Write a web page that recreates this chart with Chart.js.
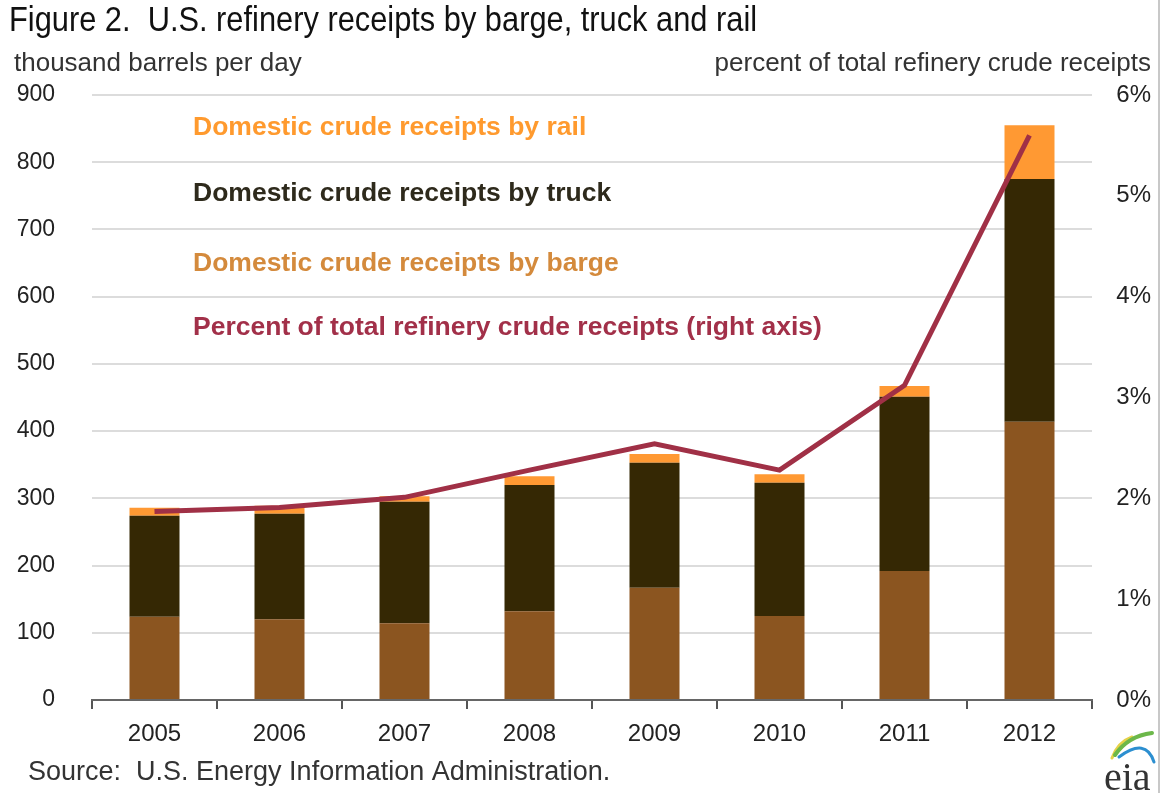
<!DOCTYPE html>
<html>
<head>
<meta charset="utf-8">
<script src="https://cdn.jsdelivr.net/npm/chart.js@4.4.0/dist/chart.umd.min.js"></script>
<style>
  html, body { margin: 0; padding: 0; background: #fff; }
  #wrap { position: relative; width: 1161px; height: 793px; }
</style>
</head>
<body>
<div id="wrap"><canvas id="refinery-chart" width="1161" height="793"></canvas></div>
<script>
/* Data */
const years = ['2005','2006','2007','2008','2009','2010','2011','2012'];
const barge = [124, 120, 114, 132, 167, 125, 192, 414];
const truck = [150, 157, 181, 188, 186, 198, 259, 361];
const rail = [12, 12, 8, 13, 13, 13, 16, 80];
const percentOfTotal = [1.87, 1.91, 2.01, 2.28, 2.54, 2.28, 3.12, 5.6];
const leftTicks = [0, 100, 200, 300, 400, 500, 600, 700, 800, 900];
const rightTicks = [0, 1, 2, 3, 4, 5, 6];

const plain = "'Liberation Sans', Arial, sans-serif";

/* legend text and figure labels drawn straight on the canvas */
const textPlugin = {
    id: 'figureText',
    afterDraw(chart) {
        const c = chart.ctx;
        const area = chart.chartArea;
        c.save();
        c.textBaseline = 'middle';

        // title (condensed, like Arial Narrow)
        c.save();
        c.fillStyle = '#111';
        c.font = '35px ' + plain;
        c.textAlign = 'left';
        c.translate(9, 21);
        c.scale(0.88, 1);
        c.fillText('Figure 2.  U.S. refinery receipts by barge, truck and rail', 0, 0);
        c.restore();

        // axis titles
        c.fillStyle = '#333';
        c.font = '26px ' + plain;
        c.fillText('thousand barrels per day', 14, 64);
        c.textAlign = 'right';
        c.fillText('percent of total refinery crude receipts', 1151, 64);

        // source
        c.textAlign = 'left';
        c.font = '27px ' + plain;
        c.fillText('Source:  U.S. Energy Information Administration.', 28, 773);

        // legend (text only)
        c.font = 'bold 26.5px ' + plain;
        const lx = area.left + 101;
        const legend = [
            ['Domestic crude receipts by rail', '#ff9a2e', 128],
            ['Domestic crude receipts by truck', '#2e2a1c', 194],
            ['Domestic crude receipts by barge', '#d48a3c', 264],
            ['Percent of total refinery crude receipts (right axis)', '#a23049', 328]
        ];
        legend.forEach(function(item) {
            c.fillStyle = item[1];
            c.fillText(item[0], lx, item[2]);
        });

        // eia logo
        c.lineCap = 'round';
        c.lineWidth = 3;
        c.strokeStyle = '#e6d24a';
        c.beginPath(); c.moveTo(1112, 758); c.quadraticCurveTo(1118, 742, 1132, 737); c.stroke();
        c.strokeStyle = '#6cb84a';
        c.lineWidth = 4;
        c.beginPath(); c.moveTo(1115, 755); c.quadraticCurveTo(1128, 736, 1152, 733); c.stroke();
        c.strokeStyle = '#2c8fd0';
        c.lineWidth = 3;
        c.beginPath(); c.moveTo(1119, 757); c.quadraticCurveTo(1146, 737, 1154, 762); c.stroke();
        c.fillStyle = '#333';
        c.font = '40px "Liberation Serif", "DejaVu Serif", serif';
        c.textAlign = 'left';
        c.textBaseline = 'alphabetic';
        c.fillText('eia', 1104, 790);

        // right border of the figure
        c.strokeStyle = '#c8c8c8';
        c.lineWidth = 2;
        c.beginPath(); c.moveTo(1159, 0); c.lineTo(1159, 793); c.stroke();
        c.restore();
    }
};

let ctx = document.getElementById('refinery-chart');
let refinery_chart = new Chart(ctx, {
    type: 'bar',
    data: {
        labels: years,
        datasets: [
            {
                label: 'Percent of total refinery crude receipts (right axis)',
                type: 'line',
                data: percentOfTotal,
                yAxisID: 'y1',
                borderColor: '#a03046',
                borderWidth: 5,
                pointRadius: 0,
                tension: 0,
                order: 0
            },
            {
                label: 'Domestic crude receipts by barge',
                data: barge,
                backgroundColor: '#8b5520',
                stack: 'receipts',
                order: 1
            },
            {
                label: 'Domestic crude receipts by truck',
                data: truck,
                backgroundColor: '#352804',
                stack: 'receipts',
                order: 1
            },
            {
                label: 'Domestic crude receipts by rail',
                data: rail,
                backgroundColor: '#ff9933',
                stack: 'receipts',
                order: 1
            }
        ]
    },
    options: {
        responsive: false,
        animation: false,
        layout: {
            padding: { top: 95, bottom: 48, left: 0, right: 10 }
        },
        plugins: {
            legend: { display: false },
            tooltip: { enabled: false }
        },
        datasets: {
            bar: { categoryPercentage: 1, barPercentage: 0.4 }
        },
        scales: {
            x: {
                stacked: true,
                offset: true,
                grid: {
                    offset: true,
                    drawOnChartArea: false,
                    color: '#555',
                    lineWidth: 2,
                    tickLength: 9
                },
                border: { color: '#666', width: 2 },
                ticks: {
                    color: '#222',
                    font: { family: plain, size: 24 },
                    padding: 11,
                    maxRotation: 0
                },
                afterFit(scale) { scale.height = 45; }
            },
            y: {
                stacked: true,
                position: 'left',
                min: 0,
                max: 900,
                afterBuildTicks(scale) {
                    scale.ticks = leftTicks.map(v => ({ value: v }));
                },
                grid: { color: '#dcdcdc', lineWidth: 2, drawTicks: false },
                border: { display: false },
                ticks: {
                    color: '#222',
                    font: { family: plain, size: 23 },
                    padding: 37
                },
                afterFit(scale) { scale.width = 92; }
            },
            y1: {
                position: 'right',
                min: 0,
                max: 6,
                afterBuildTicks(scale) {
                    scale.ticks = rightTicks.map(v => ({ value: v }));
                },
                grid: { display: false, drawTicks: false },
                border: { display: false },
                ticks: {
                    color: '#222',
                    font: { family: plain, size: 24 },
                    crossAlign: 'far',
                    callback: function(v) { return v + '%'; }
                },
                afterFit(scale) { scale.width = 59; }
            }
        }
    },
    plugins: [textPlugin]
});
</script>
</body>
</html>
